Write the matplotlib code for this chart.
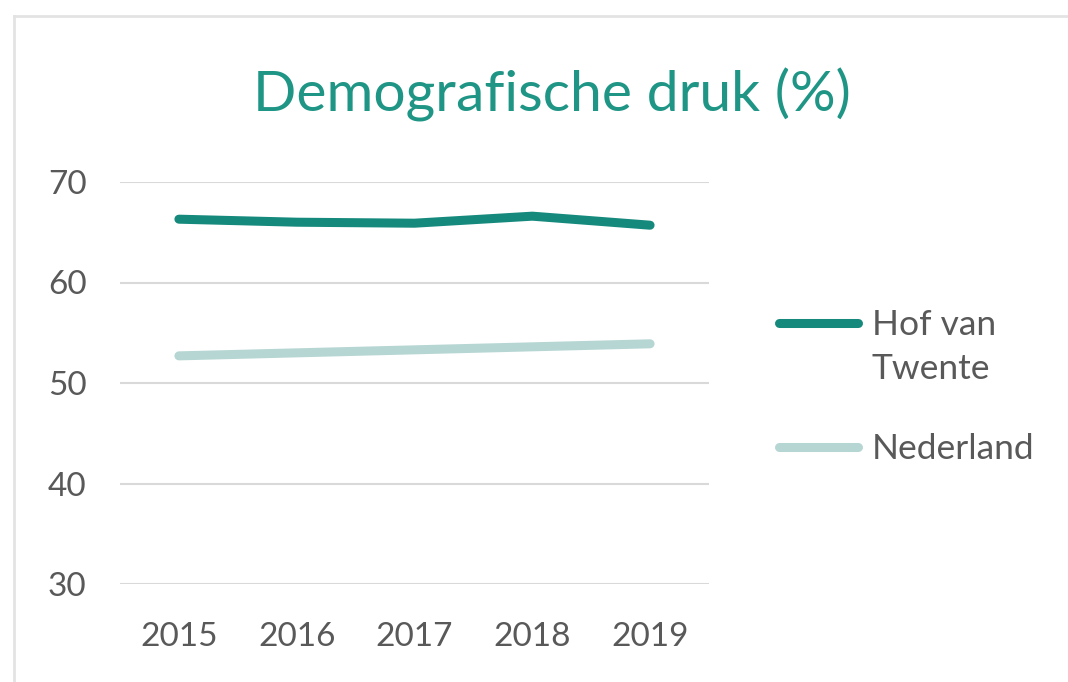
import matplotlib.pyplot as plt
from matplotlib.lines import Line2D

plt.rcParams["font.family"] = ["Lato", "DejaVu Sans"]

# Data
years = ["2015", "2016", "2017", "2018", "2019"]
hof_van_twente = [66.3, 66.0, 65.9, 66.6, 65.7]
nederland = [52.7, 53.0, 53.3, 53.6, 53.9]
y_ticks = [30, 40, 50, 60, 70]
series_labels = ["Hof van\nTwente", "Nederland"]

TEAL = "#14897c"
LIGHT = "#b5d6d3"
GREY = "#595959"
GRID = "#d9d9d9"

W, H = 1068, 682
fig = plt.figure(figsize=(W / 100, H / 100), dpi=100)

def fx(px):
    return px / W

def fy(py):
    return 1 - py / H

# outer chart frame (top and left edge visible)
fig.add_artist(Line2D([fx(14), 1.0], [fy(16), fy(16)], color="#e3e3e3", lw=2))
fig.add_artist(Line2D([fx(14), fx(14)], [0.0, fy(16)], color="#e3e3e3", lw=2))

ax = fig.add_axes([fx(120), fy(584), fx(709 - 120), (584 - 182) / H])
x = range(len(years))
lines = []
for vals, col in [(hof_van_twente, TEAL), (nederland, LIGHT)]:
    ln, = ax.plot(x, vals, color=col, lw=6.5, solid_capstyle="round",
                  solid_joinstyle="round")
    lines.append(ln)

ax.set_xlim(-0.5, len(years) - 0.5)
ax.set_ylim(30, 70)
ax.set_yticks(y_ticks)
ax.set_xticks(list(x))
ax.set_xticklabels(years)
ax.grid(axis="y", color=GRID, lw=1.5)
ax.set_axisbelow(True)
for s in ax.spines.values():
    s.set_visible(False)
ax.tick_params(length=0, labelsize=24, colors=GREY)
ax.tick_params(axis="y", pad=24)
ax.tick_params(axis="x", pad=27)

fig.text(fx(552), fy(95), "Demografische druk (%)", color="#1f9585",
         fontsize=41, ha="center", va="center")

# legend, Excel style: handle level with the first text line
for ln, lab, ypx in zip(lines, series_labels, [323, 447]):
    fig.add_artist(Line2D([fx(779), fx(858)], [fy(ypx), fy(ypx)],
                          color=ln.get_color(), lw=6.5, solid_capstyle="round"))
    fig.text(fx(872), fy(ypx - 14), lab, color=GREY, fontsize=25.5,
             ha="left", va="top", linespacing=1.45)

fig.savefig("out.png", dpi=100)
